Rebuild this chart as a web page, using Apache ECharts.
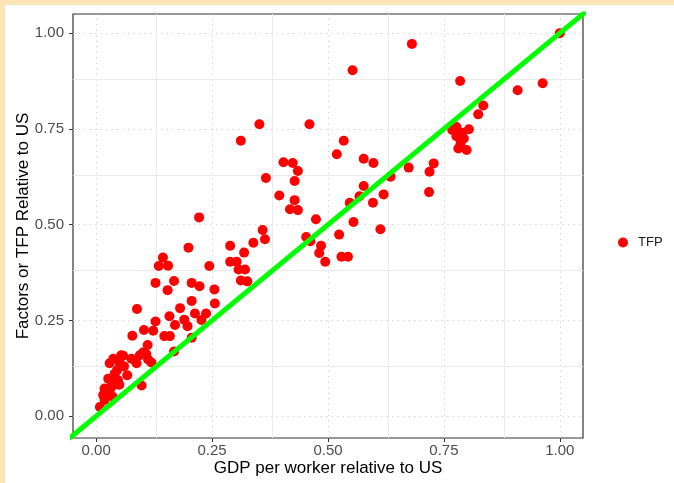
<!DOCTYPE html>
<html>
<head>
<meta charset="utf-8">
<script src="https://cdn.jsdelivr.net/npm/echarts@6/dist/echarts.min.js"></script>
<style>
html,body{margin:0;padding:0;background:#FFE4B5;width:674px;height:483px;overflow:hidden;}
#chart{position:absolute;left:5px;top:5px;width:669px;height:478px;background:#ffffff;}
</style>
</head>
<body>
<div id="chart"></div>
<script>
// GDP per worker relative to US (x) and TFP relative to US (y)
const gdp = [1.000,0.963,0.909,0.785,0.681,0.553,0.835,0.824,0.777,0.768,0.804,0.777,0.793,0.786,0.781,0.799,0.790,
  0.728,0.719,0.674,0.635,0.620,0.718,0.613,
  0.352,0.460,0.312,0.534,0.519,0.577,0.598,0.404,0.424,0.435,0.366,0.428,0.395,0.428,0.418,0.435,
  0.577,0.568,0.547,0.597,0.474,0.555,0.359,0.364,0.339,0.453,0.462,0.524,0.485,0.481,0.494,0.529,0.543,
  0.289,0.319,0.303,0.289,0.307,0.321,0.312,0.326,0.222,
  0.199,0.144,0.135,0.155,0.244,0.128,0.168,0.154,0.206,0.223,0.255,0.206,0.256,0.088,0.181,0.158,0.213,0.237,
  0.128,0.190,0.170,0.227,0.197,0.103,0.123,0.078,0.147,0.159,0.206,0.111,0.101,0.168,
  0.037,0.058,0.076,0.112,0.054,0.094,0.108,0.119,0.087,0.051,0.029,0.067,0.040,0.026,0.047,0.018,0.033,0.098,
  0.015,0.029,0.036,0.018,0.008,0.045,0.060,0.035,0.050,0.022];
const tfp = [1.000,0.869,0.851,0.875,0.972,0.903,0.811,0.788,0.755,0.747,0.749,0.731,0.725,0.712,0.699,0.695,0.740,
  0.660,0.638,0.649,0.625,0.579,0.585,0.488,
  0.762,0.762,0.719,0.719,0.684,0.672,0.661,0.663,0.661,0.640,0.622,0.614,0.576,0.564,0.540,0.538,
  0.601,0.574,0.557,0.557,0.514,0.507,0.486,0.462,0.453,0.468,0.457,0.474,0.445,0.426,0.403,0.416,0.416,
  0.445,0.427,0.403,0.403,0.383,0.383,0.354,0.352,0.519,
  0.440,0.414,0.392,0.393,0.392,0.348,0.353,0.329,0.348,0.339,0.331,0.301,0.294,0.280,0.282,0.261,0.268,0.268,
  0.247,0.252,0.238,0.251,0.235,0.225,0.223,0.210,0.209,0.209,0.205,0.186,0.166,0.169,
  0.150,0.158,0.150,0.148,0.159,0.159,0.162,0.140,0.138,0.138,0.138,0.107,0.111,0.098,0.094,0.072,0.077,0.080,
  0.055,0.063,0.050,0.042,0.024,0.120,0.130,0.090,0.082,0.060];
const majorTicks = [0, 0.25, 0.5, 0.75, 1.0];
const minorTicks = [0.125, 0.375, 0.625, 0.875];
const diagonal = [[-0.2, -0.2], [1.2, 1.2]];

const points = gdp.map((x, i) => [x, tfp[i]]);

const gridLines = [];
majorTicks.forEach(v => {
  gridLines.push({xAxis: v, lineStyle: {type: [1.5, 4], color: '#d6d6d6', width: 1}});
  gridLines.push({yAxis: v, lineStyle: {type: [1.5, 4], color: '#d6d6d6', width: 1}});
});
minorTicks.forEach(v => {
  gridLines.push({xAxis: v, lineStyle: {type: 'solid', color: '#ebebeb', width: 1}});
  gridLines.push({yAxis: v, lineStyle: {type: 'solid', color: '#ebebeb', width: 1}});
});

const chart = echarts.init(document.getElementById('chart'), null, {renderer: 'canvas'});
const fmt = v => v.toFixed(2);
chart.setOption({
  animation: false,
  textStyle: {fontFamily: 'Liberation Sans, Arial, sans-serif'},
  grid: {left: 68, top: 9, right: 91, bottom: 45, show: true, borderColor: '#333333', borderWidth: 1.2,
         backgroundColor: 'transparent', containLabel: false, outerBoundsMode: 'none'},
  legend: {
    data: ['TFP'], left: 608, top: 226, icon: 'circle', itemWidth: 10, itemHeight: 10, itemGap: 10,
    textStyle: {fontSize: 13, color: '#1a1a1a', padding: [0, 0, 0, 5]}
  },
  xAxis: {
    type: 'value', min: -0.05, max: 1.05,
    name: 'GDP per worker relative to US', nameLocation: 'middle', nameGap: 22, nameMoveOverlap: false,
    nameTextStyle: {fontSize: 17, color: '#000000'},
    axisLine: {show: false, onZero: false},
    axisTick: {show: true, length: 4, lineStyle: {color: '#333333'}, customValues: majorTicks},
    axisLabel: {color: '#4d4d4d', fontSize: 15, margin: 5, customValues: majorTicks, formatter: fmt},
    splitLine: {show: false}
  },
  yAxis: {
    type: 'value', min: -0.057, max: 1.05,
    name: 'Factors or TFP Relative to US', nameLocation: 'middle', nameGap: 41, nameMoveOverlap: false, nameRotate: 90,
    nameTextStyle: {fontSize: 17, color: '#000000'},
    axisLine: {show: false, onZero: false},
    axisTick: {show: true, length: 4, lineStyle: {color: '#333333'}, customValues: majorTicks},
    axisLabel: {color: '#4d4d4d', fontSize: 15, margin: 9, customValues: majorTicks, formatter: fmt},
    splitLine: {show: false}
  },
  series: [
    {
      name: 'grid', type: 'scatter', data: [], silent: true, z: 0,
      markLine: {silent: true, z: 0, symbol: ['none', 'none'], label: {show: false}, data: gridLines, animation: false}
    },
    {
      name: 'TFP', type: 'scatter', data: points, symbol: 'circle', symbolSize: 10,
      itemStyle: {color: '#ff0000', opacity: 1}, z: 3
    },
    {
      name: 'line', type: 'line', data: diagonal, symbol: 'none', clip: true,
      lineStyle: {color: '#00ff00', width: 5}, z: 4, silent: true
    }
  ]
});
</script>
</body>
</html>
